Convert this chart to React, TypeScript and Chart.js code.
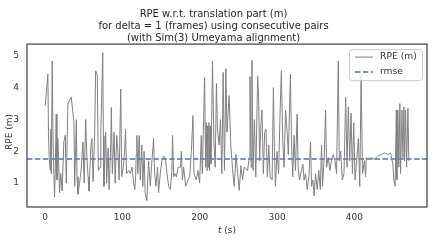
import React, { useEffect, useRef } from "react";
import { Chart, registerables } from "chart.js";

Chart.register(...registerables);

const TIMES = [
  0, 3.5, 4.3, 5.2, 6.5, 7.2, 8, 9.1, 10.2, 12.1, 13, 14.3, 15.2, 16.5, 18.6, 20.2, 22, 24.2, 26, 27.3,
  29.4, 31.5, 33.8, 35.5, 37.2, 38.2, 40.3, 41.2, 42.4, 44.5, 46.5, 48.9, 50.5, 52.4, 54, 55.5, 56.7, 59, 60.5, 62,
  64, 65.3, 67.4, 68.8, 71, 72, 74.5, 75.3, 76, 78.3, 79.5, 81.4, 82.7, 84.8, 85.6, 86.9, 89.2, 90.5, 92.6, 94.3,
  95.6, 97.8, 99, 101, 102.5, 104, 105.3, 108, 110, 112.4, 114.5, 116, 117, 117.8, 118.6, 119.9, 121.7, 123, 125, 126.3,
  128, 129.3, 131.6, 133.8, 136, 138.1, 140.3, 141.6, 143.3, 145.4, 146.7, 148.9, 151, 153.2, 155.4, 157.6, 159.8, 161.9, 164, 164.8,
  166.3, 167.6, 169.8, 172, 175, 176.2, 177.5, 179.2, 181.8, 184.8, 187, 189.2, 191.2, 192.5, 195.5, 197.7, 199.8, 202, 203.3, 206.3,
  207.6, 208.5, 209.4, 210.2, 211, 211.8, 212.7, 213.5, 214.4, 215.2, 216.5, 218.3, 220, 221.6, 222.9, 225.1, 226.8, 228.6, 230.3, 232,
  233.8, 235.2, 238, 240.2, 242.4, 244.6, 246.8, 249, 251.1, 253.2, 255.4, 257.5, 259.7, 261.9, 264, 265, 266.4, 267.5, 269, 270.7,
  272.5, 274.9, 276.2, 277.5, 279, 280.5, 282.3, 284, 285.7, 287.5, 289.3, 291, 293.6, 295.3, 296.5, 297.9, 300, 302, 304, 305.6,
  307.3, 309, 311, 313.3, 314.6, 316.1, 317.3, 318.6, 320.3, 322, 323.8, 326, 327.3, 329, 331.6, 333.4, 335, 336.8, 339, 341.2,
  343.3, 344.6, 346.3, 348, 349.8, 352, 354, 356, 357.6, 358.9, 361, 362.8, 364.1, 366.2, 368.4, 370.6, 372.7, 374.9, 377, 379.2,
  380.5, 382.3, 384.4, 386.6, 388.8, 390.5, 392.2, 394, 395.7, 397.5, 399.2, 400.9, 403, 405.2, 407, 408.8, 410.5, 413, 414.5, 415.5,
  417.3, 421.6, 426, 430.3, 434.6, 439, 443.3, 446.8, 449.8, 451.1, 452.8, 454.3, 455, 456.3, 457.6, 458.9, 459.8, 461.5, 462.8, 464.1,
  465, 466.3, 467.6, 469.3, 470.5,
];

const RPE = [
  3.43, 4.43, 2.55, 1.8, 1.4, 2.7, 1.3, 4.84, 2.3, 0.56, 1.3, 3.17, 1.1, 2.4, 0.7, 1.3, 0.75, 2.3, 2.5, 1.0,
  3.49, 3.6, 3.7, 3.3, 2.9, 0.9, 3.0, 1.2, 0.65, 1.0, 1.4, 2.3, 1.0, 3.0, 1.8, 1.2, 0.75, 2.13, 2.4, 1.05,
  2.5, 4.53, 4.4, 1.4, 1.5, 2.6, 5.1, 2.5, 0.9, 2.6, 1.0, 2.1, 0.8, 2.2, 3.38, 1.3, 2.6, 1.0, 2.5, 1.9,
  1.1, 3.96, 1.2, 1.5, 1.9, 2.7, 1.3, 1.4, 1.3, 1.5, 1.0, 0.8, 1.2, 1.9, 2.5, 1.3, 2.5, 1.1, 2.2, 0.9,
  2.0, 0.7, 0.45, 1.7, 0.9, 1.7, 2.4, 1.3, 0.9, 1.5, 0.7, 1.3, 1.7, 1.85, 1.8, 1.3, 0.9, 0.8, 1.4, 2.5,
  1.2, 1.3, 1.2, 1.5, 1.5, 2.0, 1.1, 1.5, 0.9, 1.1, 1.2, 2.0, 3.12, 1.3, 1.1, 1.4, 1.0, 2.5, 1.3, 4.32,
  1.5, 2.9, 1.4, 2.8, 1.5, 2.9, 1.4, 2.8, 1.6, 2.7, 4.84, 2.3, 1.5, 4.13, 2.7, 2.2, 3.0, 1.3, 4.48, 1.4,
  4.6, 2.6, 3.75, 2.2, 1.45, 0.9, 1.9, 1.3, 0.77, 1.55, 1.1, 1.5, 1.45, 1.4, 1.8, 4.35, 1.5, 4.86, 1.4, 3.0,
  1.2, 4.37, 3.7, 1.7, 2.8, 3.3, 1.3, 2.6, 2.7, 1.2, 2.2, 1.2, 1.1, 4.0, 2.2, 0.9, 2.0, 1.3, 3.3, 4.53,
  2.4, 1.5, 3.3, 2.5, 1.9, 3.3, 4.43, 2.4, 1.2, 2.5, 1.4, 3.17, 1.5, 1.1, 1.4, 1.6, 1.1, 1.3, 0.8, 1.2,
  2.3, 0.9, 1.1, 0.6, 1.3, 0.8, 1.4, 0.8, 2.2, 0.9, 1.8, 3.3, 1.5, 1.8, 1.4, 1.75, 1.9, 1.7, 1.3, 4.84,
  1.7, 2.0, 1.1, 1.3, 3.7, 1.5, 3.4, 1.7, 3.2, 1.3, 2.9, 1.1, 1.7, 2.4, 0.9, 4.43, 1.3, 1.7, 1.2, 1.8,
  1.75, 1.8, 1.75, 1.85, 1.9, 1.95, 1.9, 1.95, 1.6, 1.1, 0.9, 3.3, 1.1, 3.3, 1.5, 3.5, 1.3, 3.3, 1.8, 3.4,
  1.7, 3.3, 1.5, 3.35, 1.7,
];

const RMSE = 1.76;
const X_RANGE = [-23.5, 494];
const Y_RANGE = [0.25, 5.37];
const X_TICKS = [0, 100, 200, 300, 400];
const Y_TICKS = [1, 2, 3, 4, 5];
const TITLE_LINES = [
  "RPE w.r.t. translation part (m)",
  "for delta = 1 (frames) using consecutive pairs",
  "(with Sim(3) Umeyama alignment)",
];
const X_LABEL_ITALIC = "t";
const X_LABEL_REST = " (s)";
const Y_LABEL = "RPE (m)";
const SERIES_NAMES = ["RPE (m)", "rmse"];

const FONT = "'DejaVu Sans', sans-serif";
const TEXT = "#262626";
const TICK_TEXT = "#333333";
const LINE_GRAY = "#808080";
const RMSE_BLUE = "#4c72b0";
const RMSE_DASH = [5.5, 2.4];
const LABEL_SIZE = 9;

const overlay = {
  id: "overlay",
  afterDatasetsDraw(chart: any) {
    const { ctx, chartArea: a } = chart;
    ctx.save();
    ctx.strokeStyle = "#444444";
    ctx.lineWidth = 1.25;
    ctx.strokeRect(a.left, a.top, a.right - a.left, a.bottom - a.top);

    // legend box (inside, upper right)
    const bw = 73, bh = 31;
    const bx = a.right - 5 - bw, by = a.top + 5;
    ctx.beginPath();
    ctx.roundRect(bx + 0.5, by + 0.5, bw, bh, 3);
    ctx.fillStyle = "rgba(255,255,255,0.8)";
    ctx.fill();
    ctx.strokeStyle = "#cccccc";
    ctx.lineWidth = 1;
    ctx.stroke();

    const rows = [
      { y: by + 8, color: LINE_GRAY, dash: [] as number[], w: 1 },
      { y: by + 23, color: RMSE_BLUE, dash: RMSE_DASH, w: 1.5 },
    ];
    rows.forEach((r, i) => {
      ctx.beginPath();
      ctx.setLineDash(r.dash);
      ctx.strokeStyle = r.color;
      ctx.lineWidth = r.w;
      ctx.moveTo(bx + 6, r.y);
      ctx.lineTo(bx + 24, r.y);
      ctx.stroke();
      ctx.setLineDash([]);
      ctx.fillStyle = TICK_TEXT;
      ctx.font = `9.2px ${FONT}`;
      ctx.textAlign = "left";
      ctx.textBaseline = "middle";
      ctx.fillText(SERIES_NAMES[i], bx + 31, r.y);
    });

    // axis labels
    ctx.fillStyle = TICK_TEXT;
    ctx.textBaseline = "middle";
    const cx = (a.left + a.right) / 2;
    ctx.font = `italic ${LABEL_SIZE}px ${FONT}`;
    const wi = ctx.measureText(X_LABEL_ITALIC).width;
    ctx.font = `${LABEL_SIZE}px ${FONT}`;
    const wr = ctx.measureText(X_LABEL_REST).width;
    const sx = cx - (wi + wr) / 2;
    ctx.textAlign = "left";
    ctx.font = `italic ${LABEL_SIZE}px ${FONT}`;
    ctx.fillText(X_LABEL_ITALIC, sx, 231);
    ctx.font = `${LABEL_SIZE}px ${FONT}`;
    ctx.fillText(X_LABEL_REST, sx + wi, 231);

    ctx.translate(10, 132);
    ctx.rotate(-Math.PI / 2);
    ctx.textAlign = "center";
    ctx.fillText(Y_LABEL, 0, 0);
    ctx.restore();
  },
};

export default function App() {
  const ref = useRef<HTMLCanvasElement>(null);
  useEffect(() => {
    if (!ref.current) return;
    const chart = new Chart(ref.current, {
      type: "line",
      data: {
        datasets: [
          {
            label: SERIES_NAMES[0],
            data: TIMES.map((t, i) => ({ x: t, y: RPE[i] })),
            borderColor: LINE_GRAY,
            borderWidth: 1,
            pointRadius: 0,
            tension: 0,
            fill: false,
          },
          {
            label: SERIES_NAMES[1],
            data: [
              { x: X_RANGE[0], y: RMSE },
              { x: X_RANGE[1], y: RMSE },
            ],
            borderColor: RMSE_BLUE,
            borderWidth: 1.5,
            borderDash: RMSE_DASH,
            pointRadius: 0,
            fill: false,
          },
        ],
      },
      options: {
        responsive: false,
        animation: false,
        events: [],
        layout: { padding: { left: 0, right: 9, top: 0, bottom: 0 } },
        plugins: {
          legend: { display: false },
          tooltip: { enabled: false },
          title: {
            display: true,
            text: TITLE_LINES,
            color: TEXT,
            font: { family: FONT, size: 10, weight: "normal", lineHeight: 1.17 },
            padding: { top: 9, bottom: 0 },
          },
        },
        scales: {
          x: {
            type: "linear",
            min: X_RANGE[0],
            max: X_RANGE[1],
            grid: { display: false, drawTicks: false },
            border: { display: false },
            afterBuildTicks: (s: any) => {
              s.ticks = X_TICKS.map((v) => ({ value: v }));
            },
            afterFit: (s: any) => {
              s.height = 38;
            },
            ticks: {
              color: TICK_TEXT,
              padding: 5,
              maxRotation: 0,
              font: { family: FONT, size: LABEL_SIZE },
            },
          },
          y: {
            type: "linear",
            min: Y_RANGE[0],
            max: Y_RANGE[1],
            grid: { display: false, drawTicks: false },
            border: { display: false },
            afterBuildTicks: (s: any) => {
              s.ticks = Y_TICKS.map((v) => ({ value: v }));
            },
            afterFit: (s: any) => {
              s.width = 27;
            },
            ticks: {
              color: TICK_TEXT,
              padding: 8,
              font: { family: FONT, size: LABEL_SIZE },
            },
          },
        },
      },
      plugins: [overlay],
    });
    return () => chart.destroy();
  }, []);

  return (
    <div style={{ position: "absolute", left: 0, top: 0, width: 436, height: 245, background: "#fff" }}>
      <canvas ref={ref} width={436} height={245} style={{ display: "block" }} />
    </div>
  );
}
